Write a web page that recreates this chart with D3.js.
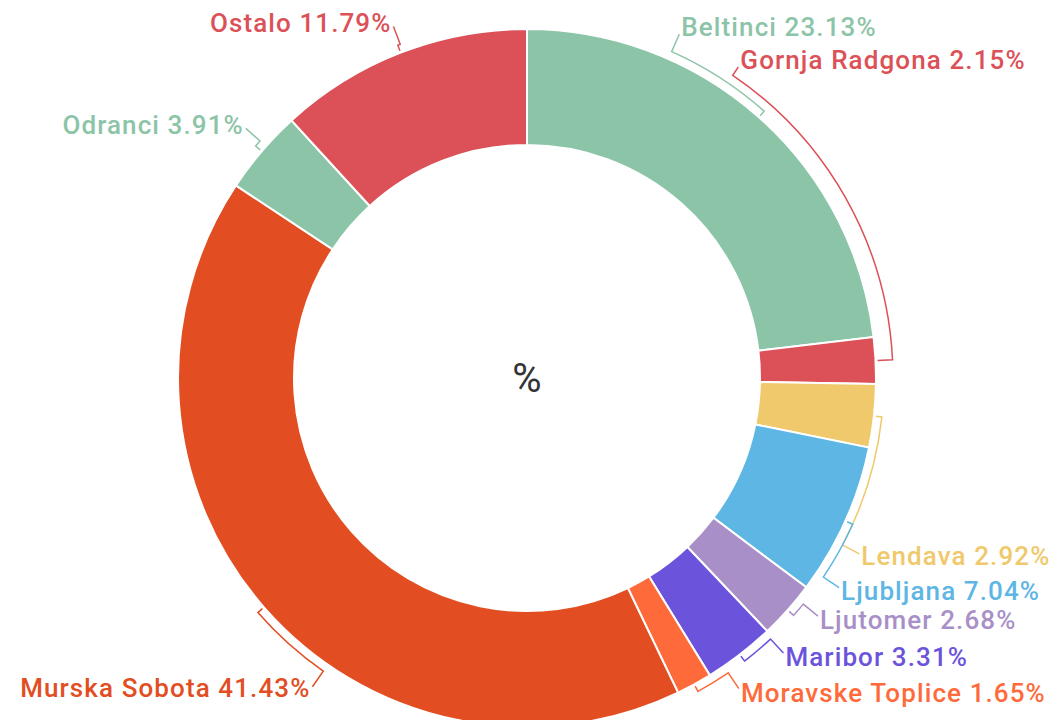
<!DOCTYPE html>
<html>
<head>
<meta charset="utf-8">
<script src="https://cdn.jsdelivr.net/npm/d3@7"></script>
<style>
  html, body { margin: 0; padding: 0; background: #fff; }
  svg { display: block; font-family: Roboto, "Noto Sans", sans-serif; }
</style>
</head>
<body>
<div id="chart"></div>
<script>
// Data
const categories = ["Beltinci", "Gornja Radgona", "Lendava", "Ljubljana", "Ljutomer",
    "Maribor", "Moravske Toplice", "Murska Sobota", "Odranci", "Ostalo"];
const shares = [23.13, 2.15, 2.92, 7.04, 2.68, 3.31, 1.65, 41.43, 3.91, 11.79];
const centerLabel = "%";

// Palette cycles like the original chart
const palette = ["#8cc4a8", "#db5157", "#efc96b", "#5db6e4", "#a98fc7",
    "#6c53dc", "#ff6a3a", "#e24e22"];

// Layout: where each label sits around the ring (degrees, clockwise from 12 o'clock)
const labelAngleDeg = [23.9, 34.2, 117.9, 123.9, 129.3, 137, 145.7, 214.8, 311.6, 339.2];

const width = 1053, height = 720;
const cx = 527, cy = 378;
const outerR = 349, innerR = 233;
const arcR = 357, arcStep = 9, labelR = 376;

const svg = d3.select("#chart").append("svg")
    .attr("width", width)
    .attr("height", height);

const g = svg.append("g").attr("transform", `translate(${cx},${cy})`);

const pie = d3.pie().sort(null).value(d => d);
const arcs = pie(shares);
const arc = d3.arc().innerRadius(innerR).outerRadius(outerR);
const color = i => palette[i % palette.length];

// Slices
g.selectAll("path.slice")
    .data(arcs)
    .join("path")
    .attr("class", "slice")
    .attr("d", arc)
    .attr("fill", (d, i) => color(i))
    .attr("stroke", "#fff")
    .attr("stroke-width", 2);

// Polar helper: angle 0 at top, clockwise
const pt = (a, r) => [r * Math.sin(a), -r * Math.cos(a)];
const rad = deg => deg * Math.PI / 180;

// Assign bracket levels so overlapping brackets don't sit on top of each other
const levels = [];
const placed = [];
arcs.forEach((d, i) => {
    const mid = (d.startAngle + d.endAngle) / 2;
    const la = rad(labelAngleDeg[i]);
    const lo = Math.min(mid, la), hi = Math.max(mid, la);
    let lvl = 0;
    while (placed.some(p => p.lvl === lvl && Math.min(hi, p.hi) - Math.max(lo, p.lo) > rad(5))) lvl++;
    placed.push({ lo, hi, lvl });
    levels.push(lvl);
});

// Connectors
g.selectAll("path.connector")
    .data(arcs)
    .join("path")
    .attr("class", "connector")
    .attr("fill", "none")
    .attr("stroke", (d, i) => color(i))
    .attr("stroke-width", 1.5)
    .attr("d", (d, i) => {
        const mid = (d.startAngle + d.endAngle) / 2;
        const la = rad(labelAngleDeg[i]);
        const r = arcR + levels[i] * arcStep;
        const p0 = pt(mid, outerR + 2);
        const p1 = pt(mid, r);
        const p2 = pt(la, r);
        const p3 = pt(la, labelR);
        const sweep = la > mid ? 1 : 0;
        const large = Math.abs(la - mid) > Math.PI ? 1 : 0;
        return `M${p0}L${p1}A${r},${r} 0 ${large} ${sweep} ${p2}L${p3}`;
    });

// Labels
g.selectAll("text.label")
    .data(arcs)
    .join("text")
    .attr("class", "label")
    .attr("font-size", 26)
    .attr("font-weight", 500)
    .attr("letter-spacing", 1.1)
    .attr("fill", (d, i) => color(i))
    .each(function (d, i) {
        const la = rad(labelAngleDeg[i]);
        const [x, y] = pt(la, labelR);
        const right = x > 0;
        const baseline = right ? y - 7 * Math.cos(la) + 8 : y + 8 - 3 * Math.cos(la);
        d3.select(this)
            .attr("x", right ? x + 2 : x - 2)
            .attr("y", baseline)
            .attr("text-anchor", right ? "start" : "end")
            .text(`${categories[i]} ${shares[i].toFixed(2)}%`);
    });

// Center label
g.append("text")
    .attr("text-anchor", "middle")
    .attr("dominant-baseline", "central")
    .attr("font-size", 40)
    .attr("fill", "#333")
    .text(centerLabel);
</script>
</body>
</html>
